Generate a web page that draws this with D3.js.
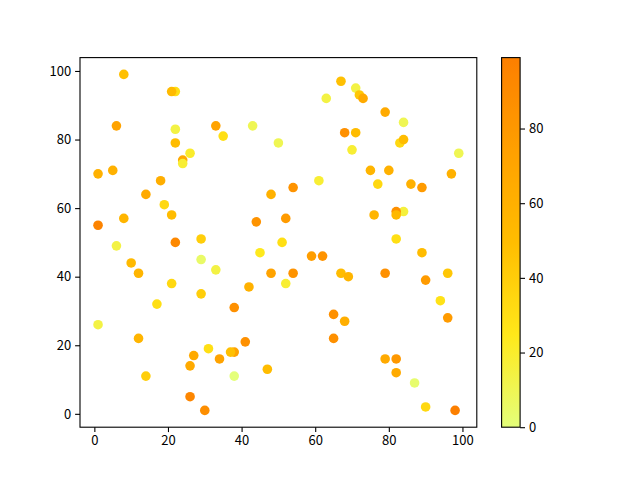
<!DOCTYPE html>
<html><head><meta charset="utf-8">
<script src="https://cdn.jsdelivr.net/npm/d3@7"></script>
<style>body{margin:0;background:#fff}svg{display:block}text{font-family:"Noto Sans CJK SC","DejaVu Sans",sans-serif;font-size:13px;fill:#000}</style>
</head><body><svg id="c" width="640" height="480"></svg>
<script>
const xs = [8,22,21,6,22,33,22,26,24,24,1,5,18,14,19,21,8,1,22,29,6,10,29,33,12,21,29,17,1,12,31,27,34,26,14,26,30,
  67,63,43,35,68,50,61,54,48,44,52,51,45,59,62,48,54,52,67,42,38,65,68,65,41,38,37,47,38,
  71,72,73,79,84,71,83,84,70,99,75,80,97,77,86,89,76,84,82,82,82,89,69,79,90,96,94,96,79,82,82,87,90,98];
const ys = [99,94,94,84,83,84,79,76,74,73,70,71,68,64,61,58,57,55,50,51,49,44,45,42,41,38,35,32,26,22,19,17,16,14,11,5,1,
  97,92,84,81,82,79,68,66,64,56,57,50,47,46,46,41,41,38,41,37,31,29,27,22,21,18,18,13,11,
  95,93,92,88,85,82,79,80,77,76,71,71,70,67,67,66,58,59,59,58,51,47,40,41,39,41,33,28,16,16,12,9,2,1];
const cs = [48,30,52,72,14,72,50,20,66,18,60,60,62,66,34,50,56,96,92,40,14,52,5,14,56,34,40,30,14,56,30,66,72,66,40,94,88,
  48,14,10,30,86,10,18,84,60,84,78,30,24,76,84,72,84,18,50,60,86,86,62,86,86,72,48,50,0,
  14,44,66,66,10,50,34,50,18,10,56,60,60,34,60,78,56,16,86,54,30,50,56,86,78,44,28,78,66,80,66,3,34,99];
const cbTicks = [0,20,40,60,80];
const xTicks = [0,20,40,60,80,100];
const yTicks = [0,20,40,60,80,100];

const wistia = d3.scaleLinear().domain([0,0.25,0.5,0.75,1])
  .range(["#e4ff7a","#ffe81a","#ffbd00","#ffa000","#fc7f00"]);
const cExt = d3.extent(cs);
const cNorm = d3.scaleLinear().domain(cExt).range([0,1]);

const svg = d3.select("#c");
const L=80,R=476.8,T=57.6,B=427.2;
const pad = (a)=>{const e=d3.extent(a);const r=e[1]-e[0];return [e[0]-0.05*r,e[1]+0.05*r];};
const x = d3.scaleLinear().domain(pad(xs)).range([L,R]);
const y = d3.scaleLinear().domain(pad(ys)).range([B,T]);

const pts = xs.map((v,i)=>({x:v,y:ys[i],c:cs[i]}));
svg.append("g").selectAll("circle").data(pts).join("circle")
  .attr("cx",d=>x(d.x)).attr("cy",d=>y(d.y)).attr("r",4.8)
  .attr("fill",d=>wistia(cNorm(d.c)));

const xa = svg.append("g").attr("transform",`translate(0,${B})`)
  .call(d3.axisBottom(x).tickValues(xTicks).tickSize(4.9).tickPadding(4).tickFormat(d3.format("d")));
const ya = svg.append("g").attr("transform",`translate(${L},0)`)
  .call(d3.axisLeft(y).tickValues(yTicks).tickSize(4.9).tickPadding(4).tickFormat(d3.format("d")));
[xa,ya].forEach(a=>{a.select(".domain").remove();a.selectAll("line").attr("stroke","#000").attr("stroke-width",1.1);
  a.selectAll("text").attr("font-size",null).attr("font-family",null);});
svg.append("rect").attr("x",L).attr("y",T).attr("width",R-L).attr("height",B-T)
  .attr("fill","none").attr("stroke","#000").attr("stroke-width",1.1);

// colorbar
const cbL=501.6, cbR=520.1;
const grad = svg.append("defs").append("linearGradient").attr("id","g").attr("x1",0).attr("y1",1).attr("x2",0).attr("y2",0);
d3.range(0,1.0001,0.05).forEach(t=>grad.append("stop").attr("offset",t).attr("stop-color",wistia(t)));
svg.append("rect").attr("x",cbL).attr("y",T).attr("width",cbR-cbL).attr("height",B-T).attr("fill","url(#g)");
const cy = d3.scaleLinear().domain(cExt).range([B,T]);
const ca = svg.append("g").attr("transform",`translate(${cbR},0)`)
  .call(d3.axisRight(cy).tickValues(cbTicks).tickSize(4.9).tickPadding(4).tickFormat(d3.format("d")));
ca.select(".domain").remove();
ca.selectAll("line").attr("stroke","#000").attr("stroke-width",1.1);
ca.selectAll("text").attr("font-size",null).attr("font-family",null);
svg.append("rect").attr("x",cbL).attr("y",T).attr("width",cbR-cbL).attr("height",B-T)
  .attr("fill","none").attr("stroke","#000").attr("stroke-width",1.1);
</script></body></html>
